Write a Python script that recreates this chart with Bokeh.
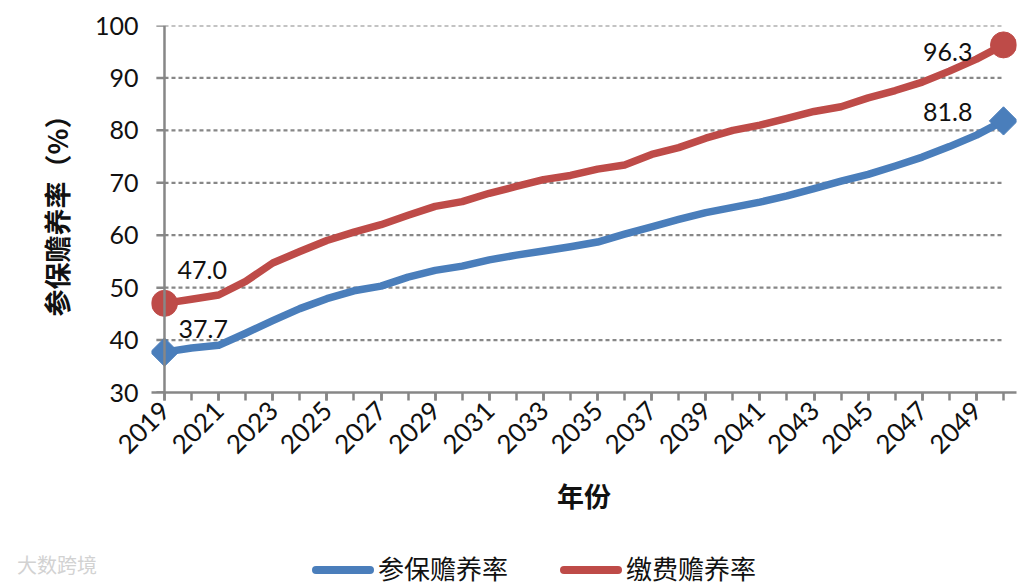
import math
from bokeh.plotting import figure
from bokeh.layouts import column
from bokeh.models import Range1d, FixedTicker, Span, Label, Div
from bokeh.embed import file_html
from bokeh.resources import INLINE

# ---------------- data ----------------
years = list(range(2019, 2051))
insured_ratio = [37.7, 38.5, 39.0, 41.3, 43.7, 46.0, 47.9, 49.4, 50.3, 52.0,
                 53.3, 54.1, 55.3, 56.2, 57.0, 57.8, 58.7, 60.2, 61.6, 63.0,
                 64.3, 65.3, 66.3, 67.5, 68.9, 70.3, 71.6, 73.2, 74.9, 76.9,
                 79.1, 81.8]
paying_ratio = [47.0, 47.8, 48.6, 51.2, 54.7, 56.9, 59.0, 60.6, 62.0, 63.8,
                65.5, 66.4, 68.0, 69.3, 70.6, 71.4, 72.6, 73.4, 75.4, 76.7,
                78.5, 80.0, 81.0, 82.3, 83.6, 84.5, 86.2, 87.6, 89.2, 91.3,
                93.6, 96.3]
series_names = ["参保赡养率", "缴费赡养率"]
y_ticks = [30, 40, 50, 60, 70, 80, 90, 100]
x_label_years = list(range(2019, 2050, 2))
x_title = "年份"
y_title = "参保赡养率（%）"
watermark = "大数跨境"

BLUE = "#4A7EBB"
RED = "#BE4B48"
GRAY = "#878787"
NUM_FONT = "Lato"
CJK_FONT = "Noto Sans CJK SC"

p = figure(width=1017, height=545, output_backend="svg", toolbar_location=None,
           x_range=Range1d(2018.52, 2050.48), y_range=Range1d(30, 100),
           min_border_left=151, min_border_right=1, min_border_top=25,
           min_border_bottom=153)
p.outline_line_color = None
p.background_fill_color = "white"
p.border_fill_color = "white"
p.xgrid.visible = False
p.ygrid.visible = False

# x axis
p.xaxis.ticker = FixedTicker(ticks=x_label_years, minor_ticks=years)
p.xaxis.axis_line_color = GRAY
p.xaxis.axis_line_width = 2.5
p.xaxis.major_tick_line_color = GRAY
p.xaxis.major_tick_line_width = 2.5
p.xaxis.minor_tick_line_color = GRAY
p.xaxis.minor_tick_line_width = 2.5
p.xaxis.major_tick_in = 0
p.xaxis.major_tick_out = 8
p.xaxis.minor_tick_in = 0
p.xaxis.minor_tick_out = 8
p.xaxis.major_label_orientation = math.pi / 4
p.xaxis.major_label_standoff = 5
p.xaxis.major_label_text_font = NUM_FONT
p.xaxis.major_label_text_font_size = "26px"
p.xaxis.major_label_text_color = "#111111"
p.xaxis.axis_label = x_title
p.xaxis.axis_label_text_font = CJK_FONT
p.xaxis.axis_label_text_font_style = "bold"
p.xaxis.axis_label_text_font_size = "27px"
p.xaxis.axis_label_text_color = "#111111"
p.xaxis.axis_label_standoff = 11

# y axis (labels only; its line is drawn at the first year)
p.yaxis.ticker = FixedTicker(ticks=y_ticks)
p.yaxis.axis_line_alpha = 0
p.yaxis.major_tick_line_alpha = 0
p.yaxis.minor_tick_line_alpha = 0
p.yaxis.major_tick_in = 0
p.yaxis.major_tick_out = 0
p.yaxis.major_label_standoff = 13
p.yaxis.major_label_text_font = NUM_FONT
p.yaxis.major_label_text_font_size = "25px"
p.yaxis.major_label_text_color = "#111111"
p.yaxis.axis_label = y_title
p.yaxis.axis_label_text_font = CJK_FONT
p.yaxis.axis_label_text_font_style = "bold"
p.yaxis.axis_label_text_font_size = "27px"
p.yaxis.axis_label_text_color = "#111111"
p.yaxis.axis_label_standoff = 16

# dotted grid lines from the y axis to the last year
grid_vals = y_ticks[1:]
p.segment(x0=[years[0]] * len(grid_vals), x1=[years[-1]] * len(grid_vals),
          y0=grid_vals, y1=grid_vals, line_color=GRAY, line_width=2.2,
          line_dash="4 3")
# y axis line and its tick marks
p.add_layout(Span(location=years[0], dimension="height", line_color=GRAY,
                  line_width=2.5))
p.segment(x0=[years[0] - 0.3] * len(y_ticks), x1=[years[0]] * len(y_ticks),
          y0=y_ticks, y1=y_ticks, line_color=GRAY, line_width=2.5)

# series
p.line(years, insured_ratio, line_color=BLUE, line_width=7.5,
       line_join="round", line_cap="round")
p.line(years, paying_ratio, line_color=RED, line_width=7.5,
       line_join="round", line_cap="round")
p.scatter([years[0], years[-1]], [insured_ratio[0], insured_ratio[-1]],
          marker="square", angle=math.pi / 4, size=20, fill_color=BLUE,
          line_color=BLUE)
p.scatter([years[0], years[-1]], [paying_ratio[0], paying_ratio[-1]],
          marker="circle", size=26, fill_color=RED, line_color=RED)

# end-point labels
def add_val(x, y, xo, yo, align):
    p.add_layout(Label(x=x, y=y, x_offset=xo, y_offset=yo, text=f"{y:.1f}",
                       text_align=align, text_baseline="middle",
                       text_font=NUM_FONT, text_font_size="25px",
                       text_color="#111111"))

add_val(years[0], paying_ratio[0], 13, 33, "left")
add_val(years[0], insured_ratio[0], 14, 23, "left")
add_val(years[-1], paying_ratio[-1], -31, -7, "right")
add_val(years[-1], insured_ratio[-1], -31, 9, "right")

# ---------------- legend strip below the chart ----------------
leg_colors = [BLUE, RED]
leg_x = [305, 553]
parts = [
    f'<span style="position:absolute;left:12px;top:4px;font-size:20px;'
    f'line-height:22px;color:#d2d2d2;">{watermark}</span>'
]
for name, col, x in zip(series_names, leg_colors, leg_x):
    parts.append(
        f'<span style="position:absolute;left:{x + 2}px;top:16px;width:62px;'
        f'height:8px;border-radius:4px;background:{col};"></span>')
    parts.append(
        f'<span style="position:absolute;left:{x + 68}px;top:3px;'
        f'font-size:26px;line-height:30px;color:#111111;white-space:nowrap;">'
        f'{name}</span>')
html = ('<div style="position:relative;width:1017px;height:40px;'
        f"font-family:'{CJK_FONT}',sans-serif;\">" + "".join(parts) + "</div>")
legend_div = Div(text=html, width=1017, height=40)

layout = column(p, legend_div, spacing=0)
open("out.html", "w").write(file_html(layout, INLINE))
